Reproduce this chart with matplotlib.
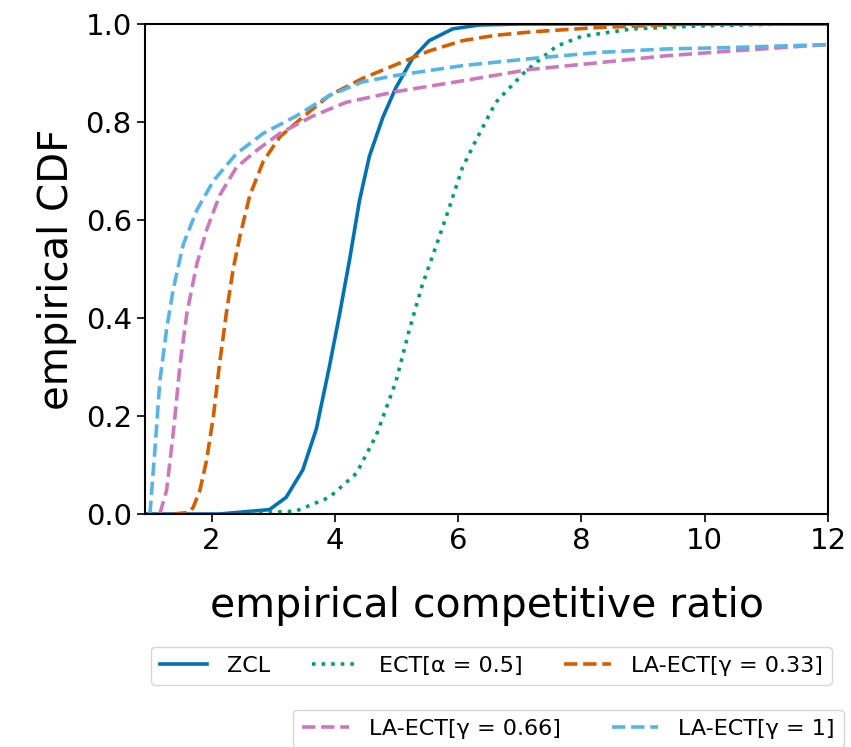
import numpy as np
import matplotlib.pyplot as plt

# empirical CDF curves
zcl_x = [0.95, 2.13, 2.94, 3.21, 3.48, 3.70, 3.91, 4.08, 4.24, 4.40, 4.56, 4.78, 4.99, 5.26, 5.53, 5.91, 6.34, 7.0, 12.0]
zcl_y = [0.0, 0.0, 0.009, 0.034, 0.09, 0.174, 0.30, 0.41, 0.52, 0.64, 0.73, 0.81, 0.87, 0.93, 0.966, 0.99, 0.998, 1.0, 1.0]

ect_x = [2.46, 3.37, 3.91, 4.35, 4.67, 4.99, 5.21, 5.42, 5.64, 5.85, 6.07, 6.29, 6.61, 6.82, 7.09, 7.3, 7.6, 8.01, 8.82, 9.9, 11.3]
ect_y = [0.0, 0.006, 0.034, 0.083, 0.16, 0.27, 0.377, 0.468, 0.546, 0.623, 0.707, 0.763, 0.84, 0.868, 0.903, 0.925, 0.955, 0.975, 0.99, 0.996, 1.0]

la033_x = [1.38, 1.62, 1.70, 1.81, 1.92, 2.03, 2.13, 2.24, 2.35, 2.46, 2.62, 2.84, 3.11, 3.48, 3.91, 4.45, 4.99, 5.53, 6.07, 6.61, 7.2, 8.28, 9.8]
la033_y = [0.0, 0.003, 0.013, 0.048, 0.11, 0.20, 0.307, 0.41, 0.50, 0.567, 0.65, 0.72, 0.77, 0.81, 0.854, 0.889, 0.917, 0.945, 0.966, 0.977, 0.984, 0.993, 1.0]

la066_x = [1.16, 1.27, 1.38, 1.49, 1.60, 1.76, 1.92, 2.13, 2.40, 2.73, 3.11, 3.64, 4.18, 4.99, 6.07, 7.15, 8.28, 9.36, 10.44, 11.5, 12.0]
la066_y = [0.0, 0.048, 0.167, 0.307, 0.41, 0.51, 0.58, 0.65, 0.707, 0.742, 0.777, 0.812, 0.84, 0.862, 0.884, 0.907, 0.921, 0.935, 0.945, 0.954, 0.958]

la1_x = [1.0, 1.08, 1.16, 1.27, 1.38, 1.54, 1.76, 2.03, 2.40, 2.84, 3.37, 3.91, 4.45, 4.99, 6.07, 7.15, 8.28, 9.36, 10.44, 12.0]
la1_y = [0.0, 0.13, 0.27, 0.377, 0.46, 0.55, 0.62, 0.68, 0.735, 0.777, 0.812, 0.854, 0.882, 0.895, 0.915, 0.929, 0.942, 0.949, 0.952, 0.958]

font_size = 21

fig = plt.figure(figsize=(8.51, 7.47), dpi=100)
ax = fig.add_axes([145/851, 1-514/747, (828-145)/851, (514-24)/747])

l1, = ax.plot(zcl_x, zcl_y, "-", color="#0173B2", linewidth=2.6, label="ZCL")
l2, = ax.plot(ect_x, ect_y, ":", color="#029E73", linewidth=2.6, label="ECT[α = 0.5]")
l3, = ax.plot(la033_x, la033_y, "--", color="#D55E00", linewidth=2.6, label="LA-ECT[γ = 0.33]")
l4, = ax.plot(la066_x, la066_y, "--", color="#CC78BC", linewidth=2.6, label="LA-ECT[γ = 0.66]")
l5, = ax.plot(la1_x, la1_y, "--", color="#56B4E9", linewidth=2.6, label="LA-ECT[γ = 1]")

ax.set_xlim(0.92, 12)
ax.set_ylim(0, 1)
ax.set_xticks([2, 4, 6, 8, 10, 12])
ax.set_yticks([0.0, 0.2, 0.4, 0.6, 0.8, 1.0])
ax.tick_params(labelsize=font_size, length=6, width=1.2)
for s in ax.spines.values():
    s.set_linewidth(1.5)
ax.set_xlabel("empirical competitive ratio", fontsize=29.5, labelpad=22)
ax.set_ylabel("empirical CDF", fontsize=29, labelpad=6)

fig.legend(handles=[l1, l2, l3], loc="upper left", bbox_to_anchor=(151/851, 1-647/747),
           borderaxespad=0, ncol=3, fontsize=16, handlelength=2.1, handletextpad=0.9,
           columnspacing=1.9)
fig.legend(handles=[l4, l5], loc="upper left", bbox_to_anchor=(293/851, 1-710/747),
           borderaxespad=0, ncol=2, fontsize=16, handlelength=2.1, handletextpad=0.9,
           columnspacing=2.3)

plt.savefig("out.png", dpi=100)
